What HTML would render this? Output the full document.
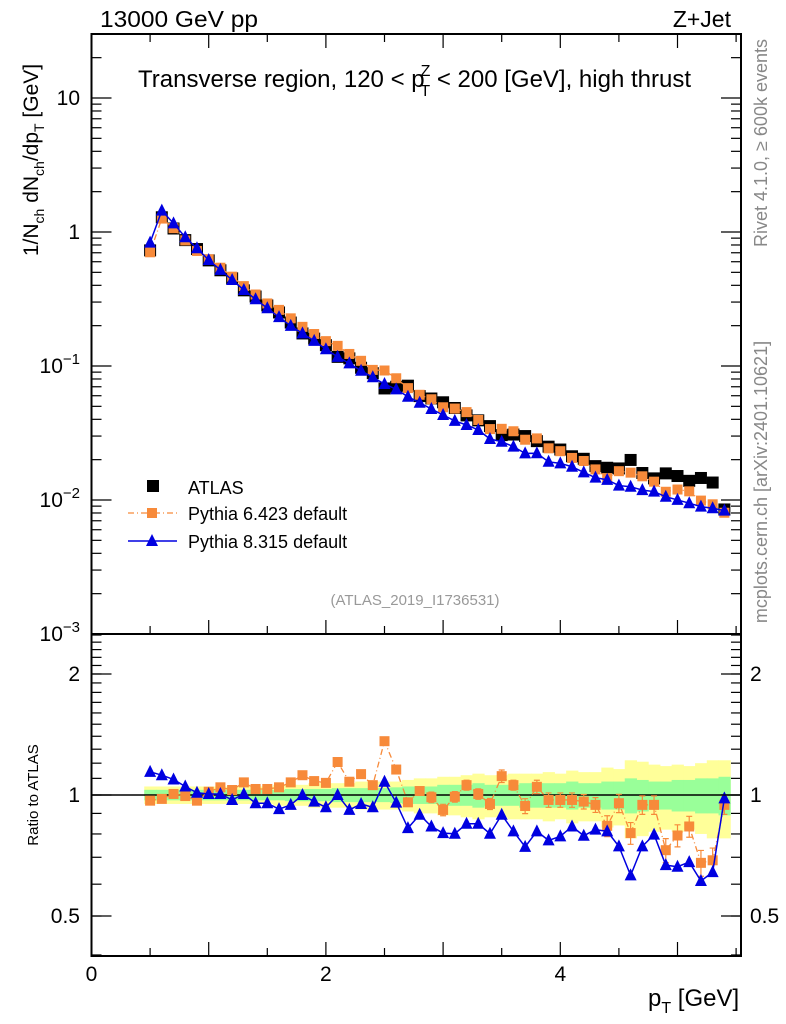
<!DOCTYPE html>
<html><head><meta charset="utf-8"><style>
html,body{margin:0;padding:0;background:#fff}
svg{display:block;font-family:"Liberation Sans",sans-serif}
</style></head><body>
<svg id="chart" width="786" height="1024" viewBox="0 0 786 1024" xmlns="http://www.w3.org/2000/svg">
<g id="bands"></g>
<g id="marks"></g>
<g id="axes"></g>
<text x="100" y="27" font-size="23" textLength="158" lengthAdjust="spacingAndGlyphs">13000 GeV pp</text>
<text x="731" y="27" font-size="23" text-anchor="end">Z+Jet</text>
<text x="138" y="87" font-size="24">Transverse region, 120 &lt; p<tspan font-size="16" dy="-11" dx="-4">Z</tspan><tspan font-size="16" dy="20" dx="-10">T</tspan><tspan dy="-9"> &lt; 200 [GeV], high thrust</tspan></text>
<text transform="translate(38,160) rotate(-90)" font-size="21" text-anchor="middle">1/N<tspan font-size="14" dy="6">ch</tspan><tspan dy="-6"> dN</tspan><tspan font-size="14" dy="6">ch</tspan><tspan dy="-6">/dp</tspan><tspan font-size="14" dy="6">T</tspan><tspan dy="-6"> [GeV]</tspan></text>
<text transform="translate(38,795) rotate(-90)" font-size="15" text-anchor="middle">Ratio to ATLAS</text>
<text x="648" y="1006" font-size="24">p<tspan font-size="16" dy="7">T</tspan><tspan dy="-7"> [GeV]</tspan></text>
<text transform="translate(767,143) rotate(-90)" font-size="18" fill="#888" text-anchor="middle">Rivet 4.1.0, ≥ 600k events</text>
<text transform="translate(767,482) rotate(-90)" font-size="18" fill="#888" text-anchor="middle">mcplots.cern.ch [arXiv:2401.10621]</text>
<text x="415" y="605" font-size="15" fill="#999" text-anchor="middle">(ATLAS_2019_I1736531)</text>
<g>
<rect x="147" y="480" width="12" height="12" fill="#000"/>
<text x="188" y="494" font-size="18">ATLAS</text>
<line x1="128" y1="513" x2="177" y2="513" stroke="#f78a3a" stroke-width="1.3" stroke-dasharray="6,3,1,3"/>
<rect x="147" y="508" width="10" height="10" fill="#f78a3a"/>
<text x="188" y="520" font-size="18">Pythia 6.423 default</text>
<line x1="128" y1="541" x2="177" y2="541" stroke="#0000e0" stroke-width="1.5"/>
<polygon points="152,534 146,546 158,546" fill="#0000e0"/>
<text x="188" y="548" font-size="18">Pythia 8.315 default</text>
</g>
</svg>
<script>
const pT = [0.5,0.6,0.7,0.8,0.9,1.0,1.1,1.2,1.3,1.4,1.5,1.6,1.7,1.8,1.9,2.0,2.1,2.2,2.3,2.4,2.5,2.6,2.7,2.8,2.9,3.0,3.1,3.2,3.3,3.4,3.5,3.6,3.7,3.8,3.9,4.0,4.1,4.2,4.3,4.4,4.5,4.6,4.7,4.8,4.9,5.0,5.1,5.2,5.3,5.4];
const atlas = [0.729,1.288,1.062,0.870,0.746,0.614,0.518,0.451,0.367,0.330,0.283,0.251,0.211,0.175,0.160,0.143,0.117,0.114,0.097,0.0884,0.0680,0.0700,0.0713,0.0596,0.0572,0.0536,0.0486,0.0428,0.0393,0.0356,0.0305,0.0308,0.0300,0.0275,0.0250,0.0238,0.0212,0.0203,0.0179,0.0174,0.0172,0.0199,0.0159,0.0145,0.0158,0.0151,0.0139,0.0146,0.0135,0.0085];
const ratioPy6 = [0.968,0.978,1.006,0.994,0.968,1.019,1.045,1.029,1.075,1.035,1.035,1.045,1.075,1.12,1.083,1.072,1.208,1.079,1.127,1.058,1.361,1.157,0.959,1.023,0.987,0.918,0.99,1.058,1.006,0.95,1.114,1.058,0.939,1.048,0.972,0.972,0.972,0.963,0.945,0.838,0.954,0.804,0.945,0.945,0.729,0.793,0.835,0.678,0.688,0.945];
const ratioPy8 = [1.142,1.12,1.093,1.05,1.013,1.006,1.006,0.972,1.006,0.954,0.954,0.922,0.945,1.0,0.963,0.932,1.0,0.918,0.95,0.932,1.079,0.957,0.827,0.893,0.835,0.804,0.801,0.848,0.848,0.801,0.893,0.812,0.743,0.812,0.771,0.789,0.835,0.792,0.82,0.812,0.745,0.631,0.745,0.797,0.669,0.663,0.681,0.611,0.643,0.981];
const errPy6 = [0.01,0.01,0.01,0.01,0.01,0.01,0.01,0.01,0.01,0.01,0.01,0.01,0.01,0.01,0.01,0.01,0.01,0.01,0.01,0.01,0.02,0.02,0.02,0.02,0.03,0.03,0.03,0.03,0.03,0.03,0.04,0.03,0.04,0.04,0.04,0.04,0.04,0.04,0.04,0.05,0.05,0.05,0.05,0.05,0.05,0.05,0.05,0.05,0.05,0.05];
const bandStat = [0.03,0.03,0.03,0.03,0.03,0.03,0.03,0.03,0.03,0.03,0.03,0.03,0.035,0.035,0.035,0.035,0.04,0.04,0.04,0.04,0.04,0.045,0.05,0.05,0.05,0.06,0.06,0.06,0.07,0.06,0.06,0.06,0.07,0.07,0.07,0.07,0.08,0.07,0.07,0.08,0.08,0.1,0.09,0.08,0.08,0.09,0.09,0.1,0.1,0.11];
const bandTot = [0.05,0.05,0.05,0.05,0.05,0.05,0.05,0.05,0.05,0.05,0.05,0.06,0.06,0.06,0.07,0.07,0.07,0.07,0.08,0.08,0.08,0.08,0.09,0.1,0.1,0.11,0.11,0.12,0.13,0.12,0.12,0.13,0.13,0.13,0.14,0.13,0.15,0.14,0.14,0.17,0.16,0.22,0.21,0.19,0.18,0.19,0.18,0.2,0.22,0.22];
const xTicks = [0,2,4];
const yDecades = [-3,-2,-1,0,1];
const ratioTicks = [0.5,1,2];

const NS='http://www.w3.org/2000/svg';
const L=91.5,R=741,T=34,MB=634,B=956;
const xs=v=>L+v*117.2;
const ym=v=>232-Math.log10(v)*134;
const yr=v=>795-Math.log10(v)*402;
function el(tag,attrs,parent){const e=document.createElementNS(NS,tag);for(const k in attrs)e.setAttribute(k,attrs[k]);parent.appendChild(e);return e;}
const bands=document.getElementById('bands'),marks=document.getElementById('marks'),axes=document.getElementById('axes');

pT.forEach((x,i)=>{
  const y1=el('rect',{x:xs(x-0.05),y:yr(1+bandTot[i]),width:117.2*0.1+0.5,height:yr(1-bandTot[i])-yr(1+bandTot[i]),fill:'#ffff99'},bands);
  
  
});
pT.forEach((x,i)=>{
  const g1=el('rect',{x:xs(x-0.05),y:yr(1+bandStat[i]),width:117.2*0.1+0.5,height:yr(1-bandStat[i])-yr(1+bandStat[i]),fill:'#99ff99'},bands);
  
  
});
const ref=el('line',{x1:L,x2:R,y1:yr(1),y2:yr(1),stroke:'#000','stroke-width':1.5},marks);



const py6=pT.map((x,i)=>atlas[i]*ratioPy6[i]);
const py8=pT.map((x,i)=>atlas[i]*ratioPy8[i]);
pT.forEach((x,i)=>{
  const s=el('rect',{x:xs(x)-6,y:ym(atlas[i])-6,width:12,height:12,fill:'#000'},marks);
  
  
});
const l6=el('polyline',{points:pT.map((x,i)=>xs(x)+','+ym(py6[i])).join(' '),fill:'none',stroke:'#f78a3a','stroke-width':1.3,'stroke-dasharray':'6,3,1,3'},marks);


pT.forEach((x,i)=>{
  const s=el('rect',{x:xs(x)-5,y:ym(py6[i])-5,width:10,height:10,fill:'#f78a3a'},marks);
  
  
});
const l8=el('polyline',{points:pT.map((x,i)=>xs(x)+','+ym(py8[i])).join(' '),fill:'none',stroke:'#0000e0','stroke-width':1.5},marks);


pT.forEach((x,i)=>{
  const cx=xs(x),cy=ym(py8[i]);
  const t=el('polygon',{points:`${cx},${cy-7} ${cx-6},${cy+5} ${cx+6},${cy+5}`,fill:'#0000e0'},marks);
  
  
});

const r6=el('polyline',{points:pT.map((x,i)=>xs(x)+','+yr(ratioPy6[i])).join(' '),fill:'none',stroke:'#f78a3a','stroke-width':1.3,'stroke-dasharray':'6,3,1,3'},marks);


pT.forEach((x,i)=>{
  const cx=xs(x);
  const e=el('path',{d:`M${cx},${yr(ratioPy6[i]+errPy6[i])}V${yr(ratioPy6[i]-errPy6[i])}M${cx-3},${yr(ratioPy6[i]+errPy6[i])}h6M${cx-3},${yr(ratioPy6[i]-errPy6[i])}h6`,stroke:'#f78a3a','stroke-width':1.2,fill:'none'},marks);
  
  
  const s=el('rect',{x:cx-5,y:yr(ratioPy6[i])-5,width:10,height:10,fill:'#f78a3a'},marks);
  
  
});
const r8=el('polyline',{points:pT.map((x,i)=>xs(x)+','+yr(ratioPy8[i])).join(' '),fill:'none',stroke:'#0000e0','stroke-width':1.5},marks);


pT.forEach((x,i)=>{
  const cx=xs(x),cy=yr(ratioPy8[i]);
  const t=el('polygon',{points:`${cx},${cy-7} ${cx-6},${cy+5} ${cx+6},${cy+5}`,fill:'#0000e0'},marks);
  
  
});

[[T,MB],[MB,B]].forEach(([a,b])=>{
  const f=el('rect',{x:L,y:a,width:R-L,height:b-a,fill:'none',stroke:'#000','stroke-width':2},axes);
  
  
});
for(let k=0;k<=11;k++){
  const v=k*0.5,x=xs(v),len=(k%2===0)?14:8;
  el('line',{x1:x,x2:x,y1:B,y2:B-len,stroke:'#000','stroke-width':1.2},axes);
  el('line',{x1:x,x2:x,y1:MB,y2:MB-len,stroke:'#000','stroke-width':1.2},axes);
  el('line',{x1:x,x2:x,y1:T,y2:T+len,stroke:'#000','stroke-width':1.2},axes);
}
xTicks.forEach(v=>{
  const t=el('text',{x:xs(v),y:981,'font-size':21,'text-anchor':'middle'},axes);
  t.textContent=v;
  
  
});
yDecades.forEach(d=>{
  const y=ym(Math.pow(10,d));
  el('line',{x1:L,x2:L+20,y1:y,y2:y,stroke:'#000','stroke-width':1.2},axes);
  el('line',{x1:R,x2:R-20,y1:y,y2:y,stroke:'#000','stroke-width':1.2},axes);
  for(let m=2;m<=9;m++){
    const yy=ym(m*Math.pow(10,d));
    if(yy<T)continue;
    el('line',{x1:L,x2:L+10,y1:yy,y2:yy,stroke:'#000','stroke-width':1.2},axes);
    el('line',{x1:R,x2:R-10,y1:yy,y2:yy,stroke:'#000','stroke-width':1.2},axes);
  }
  const t=el('text',{x:80,y:y+7,'font-size':21,'text-anchor':'end'},axes);
  
  
  if(d===0)t.textContent='1';else if(d===1)t.textContent='10';
  else{t.textContent='10';const s=el('tspan',{'font-size':15,dy:-9},t);s.textContent='\u2212'+(-d);}
});
for(let k=4;k<=25;k++){
  const v=k/10,y=yr(v);
  if(y<MB+1)continue;
  el('line',{x1:L,x2:L+10,y1:y,y2:y,stroke:'#000','stroke-width':1.2},axes);
  el('line',{x1:R,x2:R-10,y1:y,y2:y,stroke:'#000','stroke-width':1.2},axes);
}
ratioTicks.forEach(v=>{
  const y=yr(v);
  el('line',{x1:L,x2:L+20,y1:y,y2:y,stroke:'#000','stroke-width':1.2},axes);
  el('line',{x1:R,x2:R-20,y1:y,y2:y,stroke:'#000','stroke-width':1.2},axes);
  const t=el('text',{x:80,y:y+7,'font-size':21,'text-anchor':'end'},axes);
  t.textContent=v;
  
  
  const t2=el('text',{x:750,y:y+7,'font-size':21},axes);
  t2.textContent=v;
  
  
});
</script>
</body></html>
